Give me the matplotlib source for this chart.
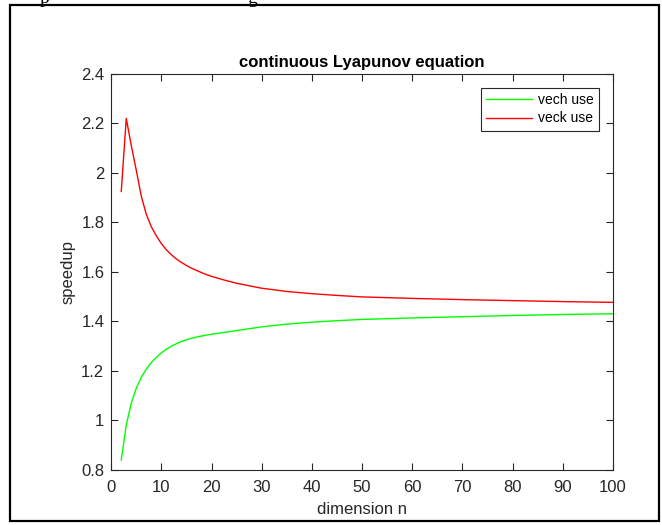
import matplotlib
matplotlib.use("Agg")
import matplotlib.pyplot as plt
from matplotlib.patches import Rectangle
from matplotlib.ticker import FormatStrFormatter

# values
dimension_n = [2, 3, 4, 5, 6, 7, 8, 9, 10, 11, 12, 13, 14, 15, 16, 17, 18,
               19, 20, 22, 25, 30, 35, 40, 45, 50, 60, 70, 80, 90, 100]
vech_speedup = [0.84, 0.982, 1.07, 1.131, 1.174, 1.208, 1.234, 1.255, 1.273,
                1.288, 1.300, 1.310, 1.319, 1.326, 1.332, 1.337, 1.341,
                1.345, 1.348, 1.354, 1.363, 1.378, 1.389, 1.397, 1.403,
                1.408, 1.414, 1.419, 1.424, 1.428, 1.431]
veck_speedup = [1.925, 2.22, 2.11, 2.01, 1.905, 1.832, 1.782, 1.745, 1.714,
                1.689, 1.669, 1.652, 1.638, 1.626, 1.615, 1.606, 1.597,
                1.589, 1.582, 1.570, 1.554, 1.534, 1.521, 1.512, 1.505,
                1.499, 1.493, 1.488, 1.484, 1.480, 1.477]
series_labels = ["vech use", "veck use"]
x_ticks = list(range(0, 101, 10))
y_ticks = [0.8, 1.0, 1.2, 1.4, 1.6, 1.8, 2.0, 2.2, 2.4]

plt.rcParams["font.family"] = ["Liberation Sans", "DejaVu Sans"]
dark = "0.15"

fig = plt.figure(figsize=(6.62, 5.25), dpi=100)
ax = fig.add_axes([0.168, 0.1048, 0.758, 0.7546])

ax.plot(dimension_n, vech_speedup, color=(0, 1, 0), lw=1.0,
        label=series_labels[0])
ax.plot(dimension_n, veck_speedup, color=(1, 0, 0), lw=1.0,
        label=series_labels[1])

ax.set_xlim(0, 100)
ax.set_ylim(0.8, 2.4)
ax.set_xticks(x_ticks)
ax.set_yticks(y_ticks)
ax.yaxis.set_major_formatter(FormatStrFormatter("%g"))
ax.tick_params(direction="in", length=5, width=0.8, top=True, right=True,
               labelsize=12, colors=dark)
ax.tick_params(axis="x", pad=7.5)
ax.tick_params(axis="y", pad=5)
for sp in ax.spines.values():
    sp.set_color(dark)
    sp.set_linewidth(0.8)

ax.set_xlabel("dimension n", fontsize=12, color=dark, labelpad=5)
ax.set_ylabel("speedup", fontsize=12, color=dark, labelpad=4)
ax.set_title("continuous Lyapunov equation", fontsize=12, fontweight="bold",
             pad=5)

leg = ax.legend(loc="upper right", fontsize=10, handlelength=3.3,
                fancybox=False, framealpha=1, borderaxespad=1.0,
                borderpad=0.4, labelspacing=0.3, handletextpad=0.4)
leg.get_frame().set_edgecolor(dark)
leg.get_frame().set_linewidth(0.8)

# document frame around the figure and the cut-off line of text above it
fig.patches.append(Rectangle((10 / 662, 4 / 525), 649 / 662, 516 / 525,
                             transform=fig.transFigure, fill=False,
                             edgecolor="black", lw=1.6))
fig.text(40 / 662, 1 - 3 / 525, "p", family="Liberation Serif", fontsize=14)
fig.text(247 / 662, 1 - 3 / 525, "g", family="Liberation Serif", fontsize=14)

fig.savefig("out.png", dpi=100)
